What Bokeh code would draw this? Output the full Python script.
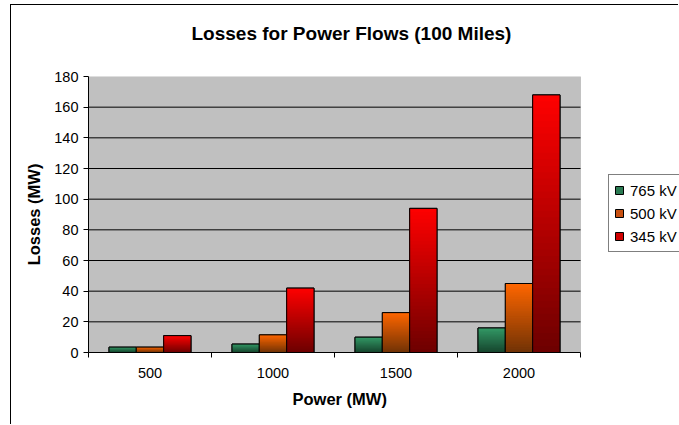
from bokeh.plotting import figure
from bokeh.models import FixedTicker, Legend, LegendItem, Title, Range1d, BoxAnnotation
from bokeh.embed import file_html
from bokeh.resources import INLINE

# ---- data ----
categories = ["500", "1000", "1500", "2000"]
series_names = ["765 kV", "500 kV", "345 kV"]
loss_765 = [3.5, 5.5, 10, 16]
loss_500 = [3.5, 11.5, 26, 45]
loss_345 = [11, 42, 94, 168]
y_ticks = [0, 20, 40, 60, 80, 100, 120, 140, 160, 180]

# gradient colours (top, bottom) per series
grad_top = [(51, 153, 102), (255, 102, 0), (255, 0, 0)]
grad_bot = [(22, 68, 45), (112, 50, 5), (108, 0, 0)]
legend_cols = ["#2a7a52", "#c85010", "#d00000"]

FONT = "Liberation Sans"

n_cat = len(categories)
y_max = y_ticks[-1]
frame_w = 591          # px, frame reaches the right edge (legend is cut there)
plot_w = 492           # px, width of the grey plot area
x_end = n_cat * frame_w / plot_w

p = figure(width=668, height=420, output_backend="svg", toolbar_location=None,
           x_range=Range1d(0, x_end), y_range=Range1d(0, y_max),
           min_border_left=77, min_border_right=0, min_border_top=71,
           min_border_bottom=73)
p.styles = {"margin-left": "10px", "margin-top": "4px",
            "border-left": "1px solid black", "border-top": "1px solid black"}
p.background_fill_color = "white"
p.border_fill_color = "white"
p.outline_line_color = None

# grey plot area
p.add_layout(BoxAnnotation(left=0, right=n_cat, bottom=0, top=y_max,
                           fill_color="#C0C0C0", fill_alpha=1.0,
                           line_color="#808080", line_width=1, level="underlay"))

# title (a blank second line lifts it away from the plot area)
p.title = Title(text="Losses for Power Flows (100 Miles)\n ", align="left",
                text_font=FONT, text_font_size="19px", text_font_style="bold",
                text_color="black", offset=103, standoff=24)

# axes
xa = p.xaxis[0]
xa.bounds = (0, n_cat)
xa.ticker = FixedTicker(ticks=[i + 0.5 for i in range(n_cat)],
                        minor_ticks=list(range(n_cat + 1)))
xa.major_label_overrides = {i + 0.5: c for i, c in enumerate(categories)}
xa.major_tick_line_color = None
xa.minor_tick_line_color = "black"
xa.minor_tick_out = 5
xa.minor_tick_in = 0
xa.axis_line_color = "black"
xa.major_label_text_font = FONT
xa.major_label_text_font_size = "14.5px"
xa.major_label_text_color = "black"
xa.major_label_standoff = 9

# x axis title, centred under the grey plot area
p.add_layout(Title(text="Power (MW)", align="left", offset=204, standoff=14,
                   text_font=FONT, text_font_size="16.5px",
                   text_font_style="bold", text_color="black"), "below")

ya = p.yaxis[0]
ya.ticker = FixedTicker(ticks=y_ticks)
ya.minor_tick_line_color = None
ya.major_tick_out = 5
ya.major_tick_in = 0
ya.axis_line_color = "black"
ya.major_label_text_font = FONT
ya.major_label_text_font_size = "14.5px"
ya.major_label_text_color = "black"
ya.major_label_standoff = 5
ya.axis_label = "Losses (MW)"
ya.axis_label_text_font = FONT
ya.axis_label_text_font_size = "16.5px"
ya.axis_label_text_font_style = "bold"
ya.axis_label_text_color = "black"
ya.axis_label_standoff = 8

p.xgrid.grid_line_color = None
p.ygrid.grid_line_color = None
grid_y = y_ticks[1:-1]
p.segment(x0=[0] * len(grid_y), x1=[n_cat] * len(grid_y), y0=grid_y, y1=grid_y,
          line_color="black", line_width=1)

# bars with vertical gradient (drawn as nested bars, tallest first)
bar_w = 2.0 / 9.0
offsets = [-bar_w, 0.0, bar_w]
series = [loss_765, loss_500, loss_345]
N = 40
base_renderers = []
for s, vals in enumerate(series):
    centers = [i + 0.5 + offsets[s] for i in range(n_cat)]
    base = p.vbar(x=centers, top=vals, width=bar_w, bottom=0,
                  fill_color=legend_cols[s], line_color="black", line_width=1)
    base_renderers.append(base)
    L, R, B, T, C = [], [], [], [], []
    for k in range(N):
        f = (N - k - 0.5) / N
        col = tuple(int(round(grad_bot[s][j] + (grad_top[s][j] - grad_bot[s][j]) * f)) for j in range(3))
        for cx, v in zip(centers, vals):
            L.append(cx - bar_w / 2)
            R.append(cx + bar_w / 2)
            B.append(0)
            T.append(v * (N - k) / N)
            C.append("#%02x%02x%02x" % col)
    p.quad(left=L, right=R, bottom=B, top=T, fill_color=C, line_color=None)
    p.vbar(x=centers, top=vals, width=bar_w, bottom=0, fill_color=None,
           line_color="black", line_width=1)

# legend
items = [LegendItem(label=name, renderers=[base_renderers[s]])
         for s, name in enumerate(series_names)]
legend = Legend(items=items, location=(520, 100), orientation="vertical",
                label_text_font=FONT, label_text_font_size="15px",
                label_text_color="black",
                glyph_width=10, glyph_height=10, label_height=20, spacing=3,
                padding=5, margin=0, label_standoff=6,
                border_line_color="black", background_fill_color="white",
                background_fill_alpha=1.0)
p.add_layout(legend, "center")

open("out.html", "w").write(file_html(p, INLINE))
